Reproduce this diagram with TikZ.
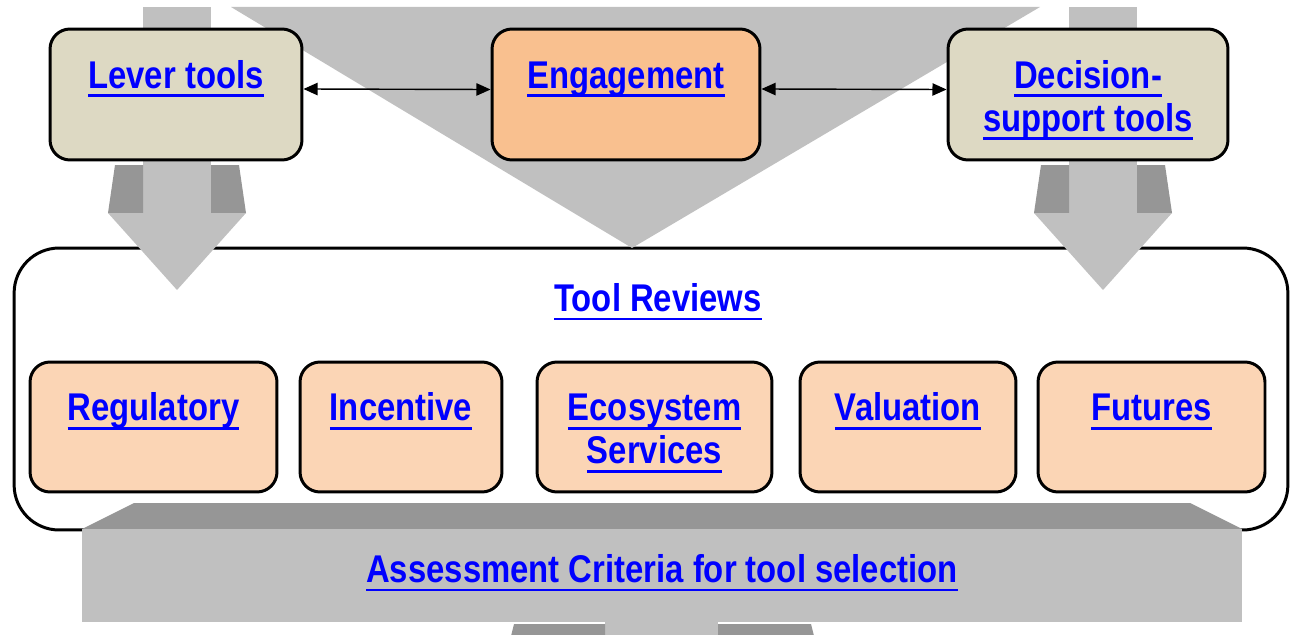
\documentclass[tikz,border=0pt]{standalone}
\usepackage{fontspec}
\setmainfont{Liberation Sans}[FakeStretch=0.85]
\usetikzlibrary{arrows.meta}
\definecolor{leverfill}{HTML}{DDD9C3}
\definecolor{engfill}{HTML}{F9C08F}
\definecolor{revfill}{HTML}{FBD5B5}
\definecolor{lightgrey}{HTML}{C0C0C0}
\definecolor{darkgrey}{HTML}{969696}
\newsavebox{\lnkbox}
\newcommand{\ulnk}[1]{\sbox{\lnkbox}{#1}\rlap{\rule[-5pt]{\wd\lnkbox}{1.6pt}}\usebox{\lnkbox}}
\newcommand{\boxtext}[2]{\rule{0pt}{22.5pt}\ulnk{#1}\\\rule[-5pt]{0pt}{5pt}#2}

\begin{document}
\begin{tikzpicture}[x=0.02cm, y=-0.02cm,
      every node/.style={font=\fontsize{22}{24.5}\selectfont\bfseries, text=blue, align=center},
      toolbox/.style={draw, line width=1.7pt, rounded corners=0.4cm, inner sep=0pt, minimum height=2.62cm},
      reviewbox/.style={toolbox, fill=revfill, minimum height=2.6cm},
      link/.style={<->, >={Triangle[length=8pt,width=7pt]}, line width=0.8pt}]
    \useasboundingbox (0,0) rectangle (1291,635);

    \node[draw, line width=1.7pt, rounded corners=0.9cm, fill=white,
          minimum width=25.48cm, minimum height=5.64cm] (reviews) at (651,389) {};

    \fill[lightgrey] (231,7) -- (1040,7) -- (632,248) -- cycle;
    \foreach \c in {177,1103} {
        \fill[lightgrey] (\c-34,7) rectangle (\c+34,40);
        \fill[lightgrey] (\c-34,150) rectangle (\c+34,213);
        \fill[darkgrey] (\c-62,165) -- (\c-34,165) -- (\c-34,213) -- (\c-69,213) -- cycle;
        \fill[darkgrey] (\c+34,165) -- (\c+62,165) -- (\c+69,213) -- (\c+34,213) -- cycle;
        \fill[lightgrey] (\c-69,213) -- (\c+69,213) -- (\c,290) -- cycle;
    }

    \fill[darkgrey] (134,503) -- (1190,503) -- (1242,529) -- (82,529) -- cycle;
    \fill[lightgrey] (82,529) rectangle (1242,622);
    \fill[lightgrey] (605,622) rectangle (718,640);
    \fill[darkgrey] (514,624) -- (605,624) -- (605,640) -- (510,640) -- cycle;
    \fill[darkgrey] (718,624) -- (811,624) -- (815,640) -- (718,640) -- cycle;

    \node[toolbox, fill=leverfill, minimum width=5.04cm] (lever) at (176,94.5) {\boxtext{Lever tools}{}};
    \node[toolbox, fill=engfill, minimum width=5.36cm] (engage) at (626,94.5) {\boxtext{Engagement}{}};
    \node[toolbox, fill=leverfill, minimum width=5.6cm] (decision) at (1088,94.5) {\boxtext{Decision-}{\ulnk{support tools}}};

    \draw[link] ([yshift=0.11cm]lever.east) -- ([yshift=0.1cm]engage.west);
    \draw[link] ([yshift=0.11cm]engage.east) -- ([yshift=0.1cm]decision.west);

    \node (title) at (658,302) {\ulnk{Tool Reviews}};

    \node[reviewbox, minimum width=4.94cm] (regul) at (153.5,427) {\boxtext{Regulatory}{}};
    \node[reviewbox, minimum width=4.04cm] (incent) at (401,427) {\boxtext{Incentive}{}};
    \node[reviewbox, minimum width=4.7cm] (ecosys) at (654.5,427) {\boxtext{Ecosystem}{\ulnk{Services}}};
    \node[reviewbox, minimum width=4.32cm] (valu) at (908,427) {\boxtext{Valuation}{}};
    \node[reviewbox, minimum width=4.54cm] (futures) at (1151.5,427) {\boxtext{Futures}{}};

    \node (criteria) at (662,573) {\ulnk{Assessment Criteria for tool selection}};

\end{tikzpicture}
\end{document}
